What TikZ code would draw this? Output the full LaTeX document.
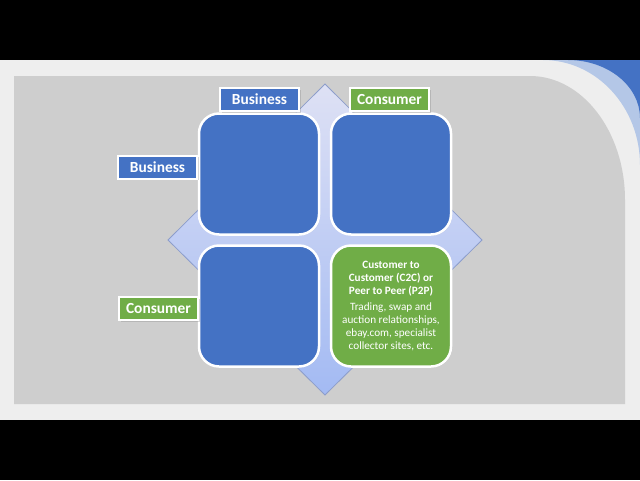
\documentclass[tikz,border=0pt]{standalone}
\usepackage{fontspec}
\setmainfont{Carlito}
\usetikzlibrary{shadows}
\definecolor{qblue}{HTML}{4472C4}
\definecolor{qgreen}{HTML}{70AD47}
\definecolor{qgray}{HTML}{CECECE}
\definecolor{qlight}{HTML}{EEEEEE}
\definecolor{qpale}{HTML}{B4C7E7}
\definecolor{dtop}{HTML}{DEE1F4}
\definecolor{dbot}{HTML}{A3BAF3}
\definecolor{dedge}{HTML}{8C9DCB}
\begin{document}
\begin{tikzpicture}[x=1pt,y=-1pt,
  cell/.style={draw=white,line width=2.5pt,rounded corners=20pt,minimum width=120pt,minimum height=121pt,
    inner sep=0pt,text=white,drop shadow={opacity=.2,shadow xshift=1pt,shadow yshift=-1pt}},
  tag/.style={draw=white,line width=2pt,text=white,font=\bfseries\fontsize{15.4}{18}\selectfont,
    minimum width=79pt,minimum height=23pt,inner sep=0pt,drop shadow={opacity=.3,shadow xshift=1.5pt,shadow yshift=-1.5pt}}]
  \fill[black] (0,0) rectangle (640,480);
  \fill[qlight] (0,60) rectangle (640,420);
  \fill[qpale] (543,60) .. controls (596.5,60) and (640,107) .. (640,165) -- (640,60) -- cycle;%corner band
  \fill[qblue] (568,60) .. controls (607.7,60) and (640,86) .. (640,118) -- (640,60) -- cycle;
  \fill[qgray] (14,76) -- (530,76) .. controls (582.4,76) and (625,131.6) .. (625,200) -- (625,404) -- (14,404) -- cycle;
  \draw[dedge,line width=.8pt,top color=dtop,bottom color=dbot]
    (325,84) -- (482,240) -- (325,395) -- (168,240) -- cycle;%diamond
  \node[cell,fill=qblue] (bb) at (259,174) {};
  \node[cell,fill=qblue] (bc) at (391,174) {};
  \node[cell,fill=qblue] (cb) at (259,306) {};
  \node[cell,fill=qgreen,align=center,font=\fontsize{11.2}{12.8}\selectfont] (cc) at (391,306)
    {\textbf{Customer to}\\\textbf{Customer (C2C) or}\\\textbf{Peer to Peer (P2P)}\\[4pt]
     Trading, swap and\\auction relationships,\\ebay.com, specialist\\collector sites, etc.};
  \node[tag,fill=qblue] (topb) at (259.5,99.5) {Business};
  \node[tag,fill=qgreen] (topc) at (389.5,99.5) {Consumer};
  \node[tag,fill=qblue] (leftb) at (157.5,167) {Business};
  \node[tag,fill=qgreen] (leftc) at (158.5,308.5) {Consumer};
\end{tikzpicture}
\end{document}
